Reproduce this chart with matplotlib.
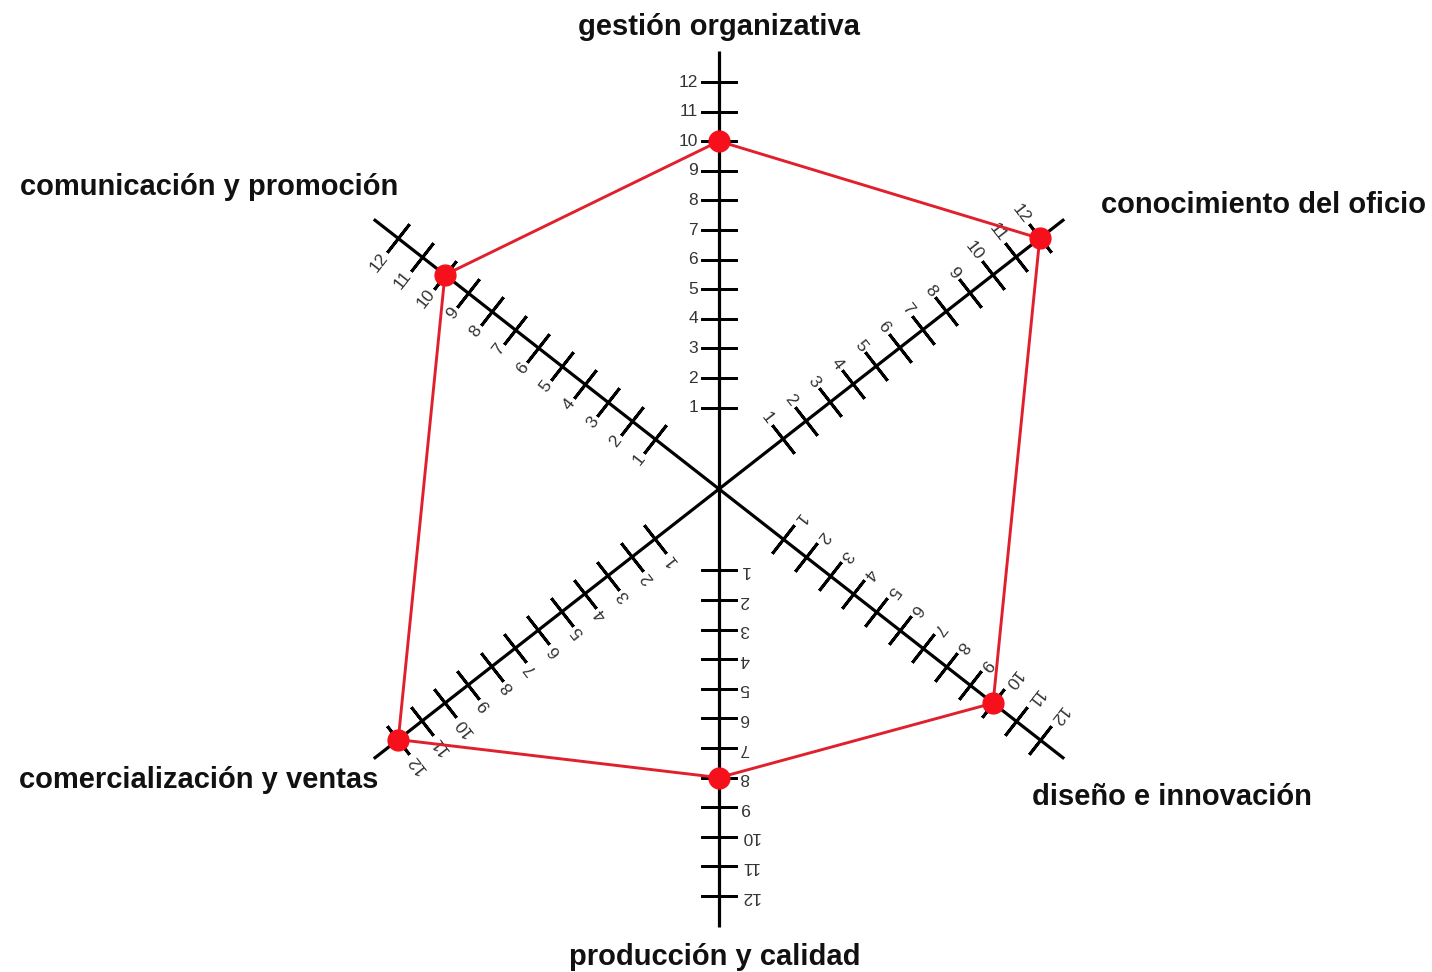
"""
Radar chart of six skill areas, each axis drawn as a graduated ruler
(ticks 1-12) with the scores joined by a red polygon.
"""

import numpy as np
import matplotlib
matplotlib.use("Agg")
import matplotlib.pyplot as plt
import matplotlib.transforms as mtransforms

# --- data ---
categories = [
    "gestión organizativa",
    "conocimiento del oficio",
    "diseño e innovación",
    "producción y calidad",
    "comercialización y ventas",
    "comunicación y promoción",
]
scores = [10, 12, 10, 8, 12, 10]
tick_values = list(range(1, 13))
tick_labels = [str(v) for v in tick_values]

# --- layout ---
axis_angles_deg = [90, 38, -38, 270, 218, 142]
R_ORIGIN = -1.75          # value sitting at the centre
R_MAX = 13.05             # end of each ruler
PX_PER_UNIT = 29.6
CENTER_PX = (719, 489)
W, H = 1432, 972

# category label anchors, in figure pixels (from top-left)
label_pos = [
    (719, 27, "center"),
    (1101, 205, "left"),
    (1032, 797, "left"),
    (715, 957, "center"),
    (378, 780, "right"),
    (398, 187, "right"),
]

LINE_RED = "#e0202c"
DOT_RED = "#f5101c"


def main():
    fig = plt.figure(figsize=(W / 100, H / 100), dpi=100)
    radius_px = (R_MAX - R_ORIGIN) * PX_PER_UNIT
    ax = fig.add_axes([
        (CENTER_PX[0] - radius_px) / W,
        (H - CENTER_PX[1] - radius_px) / H,
        2 * radius_px / W,
        2 * radius_px / H,
    ], projection="polar")
    ax.set_ylim(R_ORIGIN, R_MAX)
    ax.set_axis_off()

    thetas = np.deg2rad(axis_angles_deg)

    for th, deg in zip(thetas, axis_angles_deg):
        # ruler line from the centre out
        ax.plot([th, th], [R_ORIGIN, R_MAX], color="black", lw=2.3,
                solid_capstyle="butt", clip_on=False, zorder=2)
        # cross ticks perpendicular to the ruler
        ax.plot([th] * len(tick_values), tick_values, linestyle="none",
                marker=(2, 2, deg), markersize=26, markeredgewidth=2.1,
                color="black", clip_on=False, zorder=2)
        # tick labels on one side, rotated with the ruler
        perp = np.deg2rad(deg + 90)
        off = mtransforms.offset_copy(ax.transData, fig=fig,
                                      x=21 * np.cos(perp), y=21 * np.sin(perp),
                                      units="dots")
        for v, lab in zip(tick_values, tick_labels):
            ax.text(th, v, lab, transform=off, rotation=deg - 90,
                    rotation_mode="anchor", ha="right", va="center",
                    fontsize=12.5, color="#333333", family="Liberation Sans",
                    clip_on=False)

    # score polygon
    th_closed = np.append(thetas, thetas[0])
    sc_closed = scores + [scores[0]]
    ax.plot(th_closed, sc_closed, color=LINE_RED, lw=2.1, clip_on=False, zorder=3)
    ax.plot(thetas, scores, linestyle="none", marker="o", markersize=15,
            color=DOT_RED, clip_on=False, zorder=4)

    for name, (x, y, ha) in zip(categories, label_pos):
        fig.text(x / W, 1 - y / H, name, ha=ha, va="center", fontsize=21,
                 fontweight="bold", family="Liberation Sans", color="#111111")

    fig.savefig("out.png", dpi=100)
    plt.close(fig)


if __name__ == "__main__":
    main()
